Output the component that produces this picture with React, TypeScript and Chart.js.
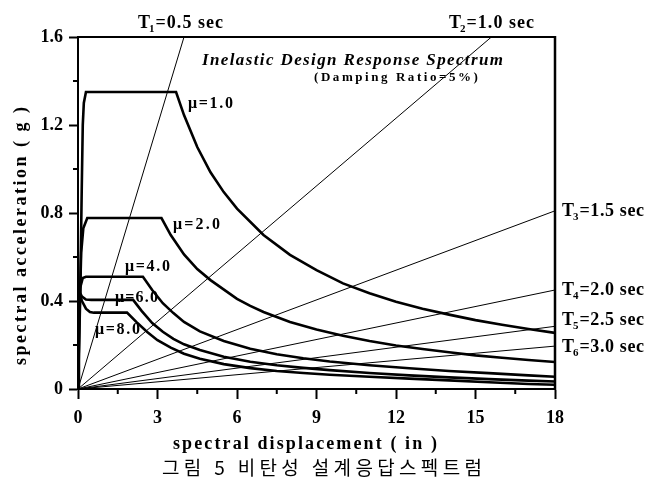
import React, { useEffect, useRef } from 'react';
import { Chart, registerables } from 'chart.js';

Chart.register(...registerables);

// ---- axis ticks ----
const xTickValues = [0, 3, 6, 9, 12, 15, 18];
const yTickValues = [0, 0.4, 0.8, 1.2, 1.6];
const xMinorTicks = [1.5, 4.5, 7.5, 10.5, 13.5, 16.5];
const yMinorTicks = [0.2, 0.6, 1.0, 1.4];

// ---- inelastic spectra (Sd in inches, Sa in g) ----
const mu1Sd = [0, 0.08, 0.14, 0.18, 0.22, 0.3, 3.7, 4.0, 4.5, 5.0, 5.5, 6.0, 7.0, 8.0, 9.0, 10.0, 11.0, 12.0, 13.0, 14.0, 15.0, 16.0, 17.0, 18.0];
const mu1Sa = [0, 0.4, 0.9, 1.2, 1.3, 1.35, 1.35, 1.245, 1.1, 0.985, 0.895, 0.82, 0.7, 0.61, 0.54, 0.48, 0.435, 0.397, 0.365, 0.338, 0.313, 0.292, 0.273, 0.255];

const mu2Sd = [0, 0.06, 0.12, 0.2, 0.35, 3.15, 3.5, 4.0, 4.5, 5.0, 6.0, 6.5, 7.0, 8.0, 9.0, 10.0, 11.0, 12.0, 13.0, 14.0, 15.0, 16.0, 17.0, 18.0];
const mu2Sa = [0, 0.35, 0.62, 0.73, 0.777, 0.777, 0.7, 0.612, 0.545, 0.495, 0.41, 0.378, 0.35, 0.305, 0.27, 0.242, 0.218, 0.198, 0.182, 0.167, 0.153, 0.142, 0.132, 0.123];

const mu4Sd = [0, 0.03, 0.08, 0.18, 0.3, 2.45, 2.8, 3.2, 3.6, 4.0, 4.6, 5.5, 6.5, 7.5, 8.5, 9.5, 11.0, 12.5, 14.0, 15.5, 17.0, 18.0];
const mu4Sa = [0, 0.3, 0.46, 0.505, 0.51, 0.51, 0.45, 0.39, 0.345, 0.305, 0.262, 0.218, 0.183, 0.158, 0.14, 0.125, 0.108, 0.094, 0.082, 0.072, 0.062, 0.056];

const mu6Sd = [0, 0.03, 0.06, 0.15, 0.3, 0.5, 2.08, 2.4, 2.8, 3.2, 3.6, 4.0, 4.6, 5.5, 6.5, 7.5, 8.5, 9.5, 11.0, 12.5, 14.0, 15.5, 17.0, 18.0];
const mu6Sa = [0, 0.3, 0.44, 0.42, 0.407, 0.405, 0.405, 0.355, 0.3, 0.26, 0.228, 0.203, 0.177, 0.147, 0.124, 0.108, 0.096, 0.086, 0.073, 0.062, 0.053, 0.045, 0.038, 0.034];

const mu8Sd = [0, 0.03, 0.06, 0.15, 0.3, 0.45, 0.6, 1.85, 2.2, 2.6, 3.0, 3.5, 4.0, 4.6, 5.5, 6.5, 7.5, 8.5, 9.5, 11.0, 12.5, 14.0, 15.5, 17.0, 18.0];
const mu8Sa = [0, 0.3, 0.43, 0.4, 0.365, 0.35, 0.347, 0.347, 0.305, 0.26, 0.222, 0.188, 0.16, 0.137, 0.113, 0.095, 0.082, 0.073, 0.065, 0.056, 0.047, 0.039, 0.031, 0.023, 0.019];

const ductilityLabels = ['\u03BC=1.0', '\u03BC=2.0', '\u03BC=4.0', '\u03BC=6.0', '\u03BC=8.0'];

// ---- constant-period lines ----
const periodIndex = ['1', '2', '3', '4', '5', '6'];
const periodText = ['=0.5 sec', '=1.0 sec', '=1.5 sec', '=2.0 sec', '=2.5 sec', '=3.0 sec'];
const periodEndSd = [4.0, 15.6, 18, 18, 18, 18];
const periodEndSa = [1.6, 1.6, 0.81, 0.45, 0.285, 0.195];

const SERIF = '"Liberation Serif", "Times New Roman", serif';

function fitText(ctx: CanvasRenderingContext2D, text: string, x: number, y: number, width: number) {
  (ctx as any).letterSpacing = '0px';
  const w = ctx.measureText(text).width;
  const n = Array.from(text).length;
  const s = n > 1 ? (width - w) / (n - 1) : 0;
  (ctx as any).letterSpacing = s.toFixed(2) + 'px';
  ctx.textAlign = 'left';
  ctx.fillText(text, x, y);
  (ctx as any).letterSpacing = '0px';
}

function periodLabel(ctx: CanvasRenderingContext2D, idx: number, x: number, y: number, width: number) {
  ctx.font = `bold 18px ${SERIF}`;
  (ctx as any).letterSpacing = '0px';
  ctx.textAlign = 'left';
  ctx.fillText('T', x, y);
  const wT = ctx.measureText('T').width;
  ctx.font = `bold 11px ${SERIF}`;
  ctx.fillText(periodIndex[idx], x + wT - 1, y + 4);
  const wS = ctx.measureText(periodIndex[idx]).width;
  ctx.font = `bold 18px ${SERIF}`;
  const start = x + wT + wS;
  fitText(ctx, periodText[idx], start, y, width - (start - x));
}

const textPlugin = {
  id: 'annotText',
  afterDraw(chart: any) {
    const ctx: CanvasRenderingContext2D = chart.ctx;
    const { left, right, top, bottom } = chart.chartArea;
    const xs = chart.scales.x;
    const ys = chart.scales.y;
    ctx.save();
    ctx.strokeStyle = '#000';
    ctx.fillStyle = '#000';
    // top and right frame
    ctx.lineWidth = 2;
    ctx.beginPath();
    ctx.moveTo(left, top);
    ctx.lineTo(right, top);
    ctx.stroke();
    ctx.lineWidth = 2.5;
    ctx.beginPath();
    ctx.moveTo(right, top - 1);
    ctx.lineTo(right, bottom + 1);
    ctx.stroke();
    // minor ticks
    ctx.lineWidth = 2;
    xMinorTicks.forEach((v) => {
      const px = xs.getPixelForValue(v);
      ctx.beginPath();
      ctx.moveTo(px, bottom);
      ctx.lineTo(px, bottom + 5);
      ctx.stroke();
    });
    yMinorTicks.forEach((v) => {
      const py = ys.getPixelForValue(v);
      ctx.beginPath();
      ctx.moveTo(left, py);
      ctx.lineTo(left - 5, py);
      ctx.stroke();
    });

    ctx.textBaseline = 'alphabetic';
    // title
    ctx.font = `italic bold 17px ${SERIF}`;
    fitText(ctx, 'Inelastic Design Response Spectrum', 202, 65, 301);
    ctx.font = `bold 13px ${SERIF}`;
    fitText(ctx, '(Damping Ratio=5%)', 314, 81, 164);

    // ductility labels
    ctx.font = `bold 16px ${SERIF}`;
    const muPos = [
      [188, 108, 45],
      [173, 229, 47],
      [125, 271, 45],
      [115, 302, 43],
      [95, 334, 45],
    ];
    ductilityLabels.forEach((t, i) => {
      const [x, y, w] = muPos[i];
      fitText(ctx, t, x, y, w);
    });

    // period labels
    const tPos = [
      [138, 28, 85],
      [449, 28, 85],
      [562, 216, 82],
      [562, 295, 82],
      [562, 325, 82],
      [562, 352, 82],
    ];
    tPos.forEach(([x, y, w], i) => periodLabel(ctx, i, x, y, w));

    // axis titles
    ctx.font = `bold 18px ${SERIF}`;
    fitText(ctx, 'spectral displacement ( in )', 173, 449, 264);
    ctx.save();
    ctx.translate(26, 365);
    ctx.rotate(-Math.PI / 2);
    fitText(ctx, 'spectral acceleration ( g )', 0, 0, 258);
    ctx.restore();

    // caption
    ctx.font = `19px "Noto Sans CJK KR", "Noto Sans", sans-serif`;
    fitText(ctx, '그림 5 비탄성 설계응답스펙트럼', 162, 475, 320);
    ctx.restore();
  },
};

export default function App() {
  const ref = useRef<HTMLCanvasElement | null>(null);
  useEffect(() => {
    document.body.style.margin = '0';
    const canvas = ref.current;
    if (!canvas) return;
    const curves = [
      [mu1Sd, mu1Sa],
      [mu2Sd, mu2Sa],
      [mu4Sd, mu4Sa],
      [mu6Sd, mu6Sa],
      [mu8Sd, mu8Sa],
    ];
    const curveSets = curves.map(([sd, sa], i) => ({
      label: ductilityLabels[i],
      data: sd.map((x, j) => ({ x, y: sa[j] })),
      showLine: true,
      borderColor: '#000',
      borderWidth: 2.6,
      pointRadius: 0,
      tension: 0,
      fill: false,
    }));
    const periodSets = periodEndSd.map((sd, i) => ({
      label: 'T' + periodIndex[i],
      data: [
        { x: 0, y: 0 },
        { x: sd, y: periodEndSa[i] },
      ],
      showLine: true,
      borderColor: '#000',
      borderWidth: 1,
      pointRadius: 0,
      tension: 0,
      fill: false,
    }));
    const chart = new Chart(canvas, {
      type: 'scatter',
      data: { datasets: [...periodSets, ...curveSets] as any },
      options: {
        responsive: false,
        animation: false,
        devicePixelRatio: 1,
        layout: { padding: { left: 0, right: 93, top: 37, bottom: 0 } },
        plugins: { legend: { display: false }, tooltip: { enabled: false }, title: { display: false } },
        scales: {
          x: {
            type: 'linear',
            min: 0,
            max: 18,
            afterBuildTicks: (s: any) => {
              s.ticks = xTickValues.map((v) => ({ value: v }));
            },
            afterFit: (s: any) => {
              s.height = 95;
            },
            grid: { drawOnChartArea: false, drawTicks: true, tickLength: 10, tickWidth: 2, tickColor: '#000' },
            border: { color: '#000', width: 2 },
            ticks: {
              color: '#000',
              font: { family: SERIF, size: 18, weight: 'bold' },
              padding: 9,
              maxRotation: 0,
              autoSkip: false,
              callback: (v: any) => String(v),
            },
          },
          y: {
            type: 'linear',
            min: 0,
            max: 1.6,
            afterBuildTicks: (s: any) => {
              s.ticks = yTickValues.map((v) => ({ value: v }));
            },
            afterFit: (s: any) => {
              s.width = 78;
            },
            grid: { drawOnChartArea: false, drawTicks: true, tickLength: 9, tickWidth: 2, tickColor: '#000' },
            border: { color: '#000', width: 2 },
            ticks: {
              color: '#000',
              font: { family: SERIF, size: 18, weight: 'bold' },
              padding: 6,
              autoSkip: false,
              callback: (v: any) => (v === 0 ? '0' : Number(v).toFixed(1)),
            },
          },
        },
      },
      plugins: [textPlugin],
    } as any);
    return () => chart.destroy();
  }, []);
  return (
    <div style={{ width: 648, height: 484, background: '#fff' }}>
      <canvas ref={ref} width={648} height={484} style={{ display: 'block' }} />
    </div>
  );
}
